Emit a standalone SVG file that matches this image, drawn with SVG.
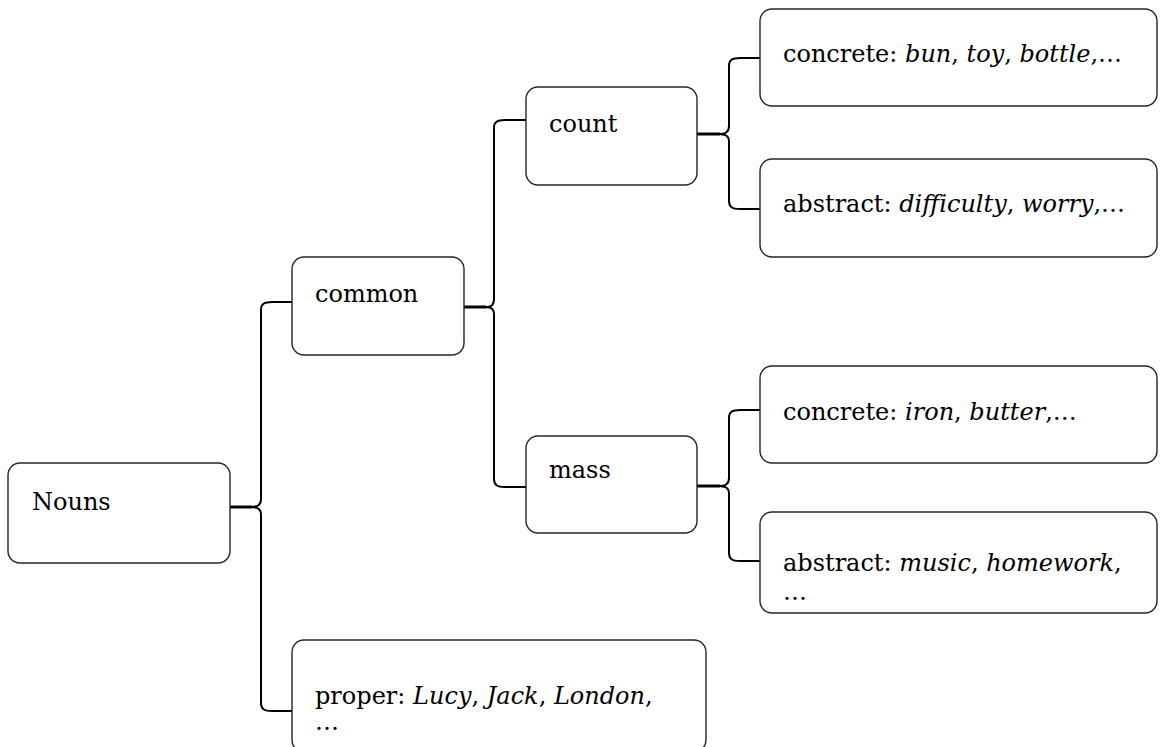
<svg xmlns="http://www.w3.org/2000/svg" width="1166" height="747" viewBox="0 0 1166 747">
  <style>
    .box { fill: #fff; stroke: #262626; stroke-width: 1.4; }
    .brace { fill: none; stroke: #000; stroke-width: 2; stroke-linejoin: round; }
    .stub { fill: none; stroke: #000; stroke-width: 3; }
    .lbl { font-family: "DejaVu Serif", "Liberation Serif", serif; font-size: 24px; fill: #000; }
    .it { font-style: italic; }
  </style>
  <rect width="1166" height="747" fill="#fff"/>

  <!-- tree connectors: curly braces from each parent to its children -->
  <g id="connectors">
    <!-- Nouns -> common / proper -->
    <path class="brace" d="M250,507 C258,507 261,505 261,499 V310 C261,304 264,302 272,302 H292"/>
    <path class="brace" d="M250,507 C258,507 261,509 261,515 V703 C261,709 264,711 272,711 H292"/>
    <path class="stub" d="M230,507 H252"/>
    <!-- common -> count / mass -->
    <path class="brace" d="M484,307 C492,307 494,305 494,299 V128 C494,122 497,120 505,120 H526"/>
    <path class="brace" d="M484,307 C492,307 494,309 494,315 V479 C494,485 497,487 505,487 H526"/>
    <path class="stub" d="M464,307 H486"/>
    <!-- count -> concrete / abstract -->
    <path class="brace" d="M718,134 C726,134 729,132 729,126 V66 C729,60 732,58 740,58 H760"/>
    <path class="brace" d="M718,134 C726,134 729,136 729,142 V201 C729,207 732,209 740,209 H760"/>
    <path class="stub" d="M697,134 H720"/>
    <!-- mass -> concrete / abstract -->
    <path class="brace" d="M718,486 C726,486 729,484 729,478 V418 C729,412 732,410 740,410 H760"/>
    <path class="brace" d="M718,486 C726,486 729,488 729,494 V553 C729,559 732,561 740,561 H760"/>
    <path class="stub" d="M697,486 H720"/>
  </g>

  <g id="nouns">
    <rect class="box" x="8" y="463" width="222" height="100" rx="12"/>
    <text class="lbl" x="32" y="510">Nouns</text>
  </g>

  <g id="common">
    <rect class="box" x="292" y="257" width="172" height="98" rx="12"/>
    <text class="lbl" x="315" y="302">common</text>
  </g>

  <g id="proper">
    <rect class="box" x="292" y="640" width="414" height="112" rx="12"/>
    <text class="lbl" x="315" y="704">proper: <tspan class="it">Lucy</tspan>, <tspan class="it">Jack</tspan>, <tspan class="it">London</tspan>,</text>
    <text class="lbl" x="315" y="730">…</text>
  </g>

  <g id="count">
    <rect class="box" x="526" y="87" width="171" height="98" rx="12"/>
    <text class="lbl" x="549" y="132">count</text>
  </g>

  <g id="mass">
    <rect class="box" x="526" y="436" width="171" height="97" rx="12"/>
    <text class="lbl" x="549" y="478">mass</text>
  </g>

  <g id="count-concrete">
    <rect class="box" x="760" y="9" width="397" height="97" rx="12"/>
    <text class="lbl" x="783" y="62">concrete: <tspan class="it">bun</tspan>, <tspan class="it">toy</tspan>, <tspan class="it">bottle</tspan>,…</text>
  </g>

  <g id="count-abstract">
    <rect class="box" x="760" y="159" width="397" height="98" rx="12"/>
    <text class="lbl" x="783" y="212">abstract: <tspan class="it">difficulty</tspan>, <tspan class="it">worry</tspan>,…</text>
  </g>

  <g id="mass-concrete">
    <rect class="box" x="760" y="366" width="397" height="97" rx="12"/>
    <text class="lbl" x="783" y="420">concrete: <tspan class="it">iron</tspan>, <tspan class="it">butter</tspan>,…</text>
  </g>

  <g id="mass-abstract">
    <rect class="box" x="760" y="512" width="397" height="101" rx="12"/>
    <text class="lbl" x="783" y="571">abstract: <tspan class="it">music</tspan>, <tspan class="it">homework</tspan>,</text>
    <text class="lbl" x="783" y="600">…</text>
  </g>
</svg>
